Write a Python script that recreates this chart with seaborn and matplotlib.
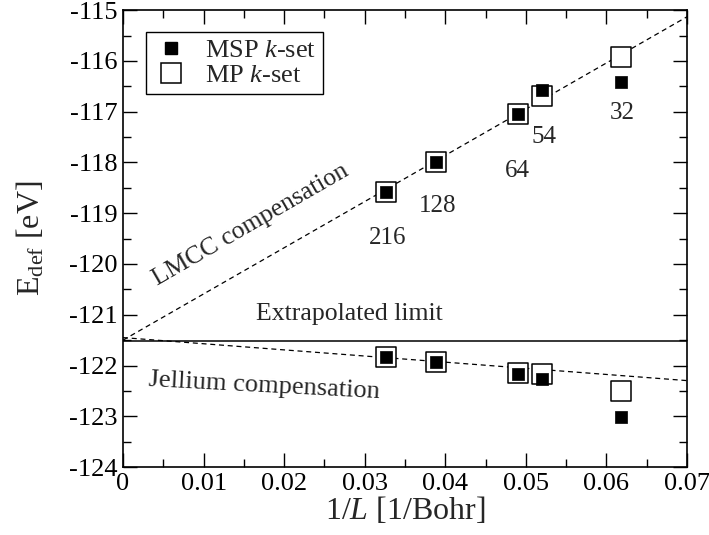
import numpy as np
import pandas as pd
import matplotlib
matplotlib.use("Agg")
import matplotlib.pyplot as plt
from matplotlib.lines import Line2D
import seaborn as sns

# data
inv_L = [0.0327, 0.0389, 0.0490, 0.0520, 0.0618]
cell_labels = ["216", "128", "64", "54", "32"]

lmcc_msp = [-118.58, -118.00, -117.04, -116.57, -116.41]
lmcc_mp = [-118.58, -118.00, -117.04, -116.69, -115.92]
jell_msp = [-121.84, -121.94, -122.17, -122.27, -123.02]
jell_mp = [-121.84, -121.94, -122.15, -122.17, -122.50]

# linear fits (intercept, slope)
lmcc_fit = (-121.50, 91.0)
jell_fit = (-121.45, -12.1)
extrap_limit = -121.52

label_x = [0.0328, 0.0390, 0.0489, 0.0522, 0.0620]
label_y = [-119.48, -118.85, -118.16, -117.50, -117.02]

sns.set_style("ticks")
plt.rcParams['font.family'] = ['Liberation Serif', 'DejaVu Serif']
plt.rcParams['mathtext.fontset'] = 'custom'
plt.rcParams['mathtext.rm'] = 'Liberation Serif'
plt.rcParams['mathtext.it'] = 'Liberation Serif:italic'

fig = plt.figure(figsize=(7.09, 5.35), dpi=100)
ax = fig.add_axes([0.1735, 0.127, 0.7955, 0.854])

df = pd.DataFrame({
    "x": inv_L * 4,
    "E": lmcc_mp + jell_mp + lmcc_msp + jell_msp,
    "set": ["MP"] * 10 + ["MSP"] * 10,
})

# fit lines
xs = np.array([0.0, 0.07])
ax.plot(xs, lmcc_fit[0] + lmcc_fit[1] * xs, color="black", ls=(0, (4, 3)), lw=0.9)
ax.plot(xs, jell_fit[0] + jell_fit[1] * xs, color="black", ls=(0, (4, 3)), lw=0.9)
ax.axhline(extrap_limit, color="black", lw=1.1)

# open squares below, filled on top
sns.scatterplot(data=df[df["set"] == "MP"], x="x", y="E", marker="s", s=210,
                facecolor="white", edgecolor="black", linewidth=1.1, ax=ax,
                legend=False, zorder=3)
sns.scatterplot(data=df[df["set"] == "MSP"], x="x", y="E", marker="s", s=80,
                color="black", edgecolor="black", linewidth=0.5, ax=ax,
                legend=False, zorder=4)

for lx, ly, t in zip(label_x, label_y, cell_labels):
    ax.text(lx, ly, t, fontsize=18, ha="center", va="center")

ax.text(0.0158, -119.24, "LMCC compensation", fontsize=18.5, rotation=30,
        ha="center", va="center", rotation_mode="anchor")
ax.text(0.0281, -120.99, "Extrapolated limit", fontsize=18.5, ha="center", va="center")
ax.text(0.01755, -122.40, "Jellium compensation", fontsize=19, rotation=-3,
        ha="center", va="center", rotation_mode="anchor")

handles = [
    Line2D([], [], ls="", marker="s", ms=9, mfc="black", mec="black"),
    Line2D([], [], ls="", marker="s", ms=15, mfc="white", mec="black", mew=1.1),
]
leg = ax.legend(handles, [r"MSP $k$-set", r"MP $k$-set"], loc="upper left",
                bbox_to_anchor=(0.040, 0.952), fontsize=19, frameon=True,
                fancybox=False, framealpha=1, edgecolor="black",
                handletextpad=0.6, borderpad=0.25, labelspacing=0.05,
                handlelength=1.4, borderaxespad=0)
leg.get_frame().set_linewidth(1.0)

ax.set_xlim(0, 0.07)
ax.set_ylim(-124, -115)
ax.set_xticks(np.arange(0, 0.0701, 0.01))
ax.set_xticklabels(["0", "0.01", "0.02", "0.03", "0.04", "0.05", "0.06", "0.07"])
ax.set_xticks(np.arange(0.005, 0.07, 0.01), minor=True)
ax.set_yticks(np.arange(-124, -114.9, 1))
ax.set_yticklabels([str(v) for v in range(-124, -114)])
ax.set_yticks(np.arange(-123.5, -115, 1), minor=True)
ax.tick_params(which="both", direction="in", top=True, right=True,
               labelsize=19, width=1.0, colors="black", pad=4)
ax.tick_params(which="major", length=10)
ax.tick_params(which="minor", length=5.5)
for sp in ax.spines.values():
    sp.set_linewidth(1.2)
    sp.set_color("black")

ax.set_xlabel(r"1/$L$ [1/Bohr]", fontsize=23, labelpad=0)
ax.set_ylabel(r"E$_{\mathrm{def}}$ [eV]", fontsize=23, labelpad=16)

fig.savefig("out.png", dpi=100)
